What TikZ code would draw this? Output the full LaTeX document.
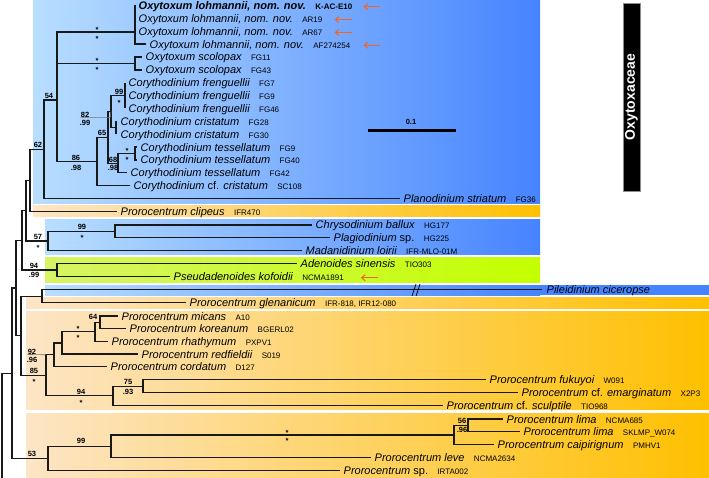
\documentclass[tikz,border=0pt]{standalone}
\usepackage{fontspec}
\setmainfont{Liberation Sans}
\usetikzlibrary{positioning,arrows.meta}
\definecolor{boxblue}{RGB}{70,132,255}
\definecolor{paleblue}{RGB}{184,222,255}
\definecolor{boxorange}{RGB}{255,192,0}
\definecolor{paleorange}{RGB}{253,229,198}
\definecolor{boxlime}{RGB}{196,255,0}
\definecolor{palelime}{RGB}{214,244,100}
\definecolor{markorange}{RGB}{245,100,30}
\tikzset{
  treeline/.style={line width=1.3pt, black!90},
  taxon/.style={anchor=west, inner sep=0pt, text height=8pt, text depth=0pt, font=\fontsize{11}{12}\selectfont\itshape},
  seqid/.style={inner sep=0pt, font=\fontsize{8}{9}\selectfont},
  supp/.style={inner sep=0pt, text height=5.5pt, text depth=0pt, font=\fontsize{7.5}{8}\selectfont\bfseries},
  newseq/.style={markorange, line width=1pt, -{Straight Barb[length=3.5pt,width=6pt]}},
}
\begin{document}
\begin{tikzpicture}[x=1pt,y=-1pt]
\useasboundingbox (0,0) rectangle (709,478);
% clade boxes
\shade[left color=paleblue, right color=boxblue] (33,0) rectangle (540,204);
\shade[left color=paleorange, right color=boxorange] (33,206) rectangle (540,217);
\shade[left color=paleblue, right color=boxblue] (45,220) rectangle (540,255);
\shade[left color=palelime, right color=boxlime] (45,258) rectangle (540,282);
\shade[left color=paleblue, right color=boxblue] (45,285) rectangle (540,295);
\fill[boxblue] (540,285) rectangle (709,295);
\shade[left color=paleorange, right color=boxorange] (26,297) rectangle (709,308);
\shade[left color=paleorange, right color=boxorange] (26,311) rectangle (709,409);
\shade[left color=paleorange, right color=boxorange] (26,413) rectangle (709,478);

% tips
\coordinate (t1) at (135,5.5);
\coordinate (t2) at (135,18.4);
\coordinate (t3) at (135,31.2);
\coordinate (t4) at (146,44.1);
\coordinate (t5) at (142,57);
\coordinate (t6) at (142,69.9);
\coordinate (t7) at (125,82.7);
\coordinate (t8) at (125,95.6);
\coordinate (t9) at (125,108.5);
\coordinate (t10) at (116,121.3);
\coordinate (t11) at (116,134.2);
\coordinate (t12) at (137,147.1);
\coordinate (t13) at (137,160);
\coordinate (t14) at (127,172.8);
\coordinate (t15) at (130,185.7);
\coordinate (t16) at (400,198.6);
\coordinate (t17) at (117,211.8);
\coordinate (t18) at (312,225);
\coordinate (t19) at (330,237.8);
\coordinate (t20) at (302,250.6);
\coordinate (t21) at (297,263.5);
\coordinate (t22) at (170,276.5);
\coordinate (t23) at (542,289.8);
\coordinate (t24) at (186,302.6);
\coordinate (t25) at (118,316);
\coordinate (t26) at (126,328.6);
\coordinate (t27) at (108,341.3);
\coordinate (t28) at (138,354);
\coordinate (t29) at (107,366.7);
\coordinate (t30) at (486,379.8);
\coordinate (t31) at (518,392.6);
\coordinate (t32) at (443,405.3);
\coordinate (t33) at (503,419);
\coordinate (t34) at (520,431.8);
\coordinate (t35) at (494,444.6);
\coordinate (t36) at (371,457.4);
\coordinate (t37) at (340,470.2);

% inner nodes
\coordinate (nOx) at (135,32);
\coordinate (nSc) at (135,63.5);
\coordinate (nFr) at (125,95.6);
\coordinate (nCr) at (116,127.7);
\coordinate (nA) at (111,111.6);
\coordinate (nTi) at (135,153.5);
\coordinate (nTe) at (118,163.2);
\coordinate (n65) at (108,137.4);
\coordinate (n86) at (97,161.5);
\coordinate (n54) at (57,100);
\coordinate (n62) at (44,149.3);
\coordinate (nCl) at (30,180.5);
\coordinate (nCh) at (115,231.4);
\coordinate (n57) at (48,241);
\coordinate (nE) at (26,210.8);
\coordinate (nAd) at (57,270);
\coordinate (nC) at (22,240.4);
\coordinate (nPi) at (42,296.2);
\coordinate (n64) at (100,322.3);
\coordinate (nRh) at (95,331.8);
\coordinate (nRe) at (62,342.9);
\coordinate (n92) at (54,354.8);
\coordinate (n75) at (143,386.2);
\coordinate (n94) at (113,395.8);
\coordinate (n85) at (46,375.3);
\coordinate (nD) at (21,335.8);
\coordinate (nB) at (16,288.1);
\coordinate (n56) at (468,425.4);
\coordinate (nLi) at (454,435);
\coordinate (n99) at (111,446.2);
\coordinate (n53) at (48,458.3);
\coordinate (nRt) at (12,373.2);
\coordinate (root) at (2,478);

% branches
\draw[treeline] (root) |- (nRt);
\draw[treeline] (nRt) |- (nB) (nRt) |- (n53);
\draw[treeline] (nB) |- (nC) (nB) |- (nD);
\draw[treeline] (nC) |- (nE) (nC) |- (nAd);
\draw[treeline] (nE) |- (nCl) (nE) |- (n57);
\draw[treeline] (nCl) |- (n62) (nCl) |- (t17);
\draw[treeline] (n62) |- (n54) (n62) |- (t16);
\draw[treeline] (n54) |- (nOx) (n54) |- (nSc) (n54) |- (n86);
\draw[treeline] (nOx) |- (t1) (nOx) |- (t2) (nOx) |- (t3) (nOx) |- (t4);
\draw[treeline] (nSc) |- (t5) (nSc) |- (t6);
\draw[treeline] (n86) |- (n65) (n86) |- (t15);
\draw[treeline] (n65) |- (nA) (n65) |- (nTe);
\draw[treeline] (nA) |- (nFr) (nA) |- (nCr);
\draw[treeline] (nFr) |- (t7) (nFr) |- (t8) (nFr) |- (t9);
\draw[treeline] (nCr) |- (t10) (nCr) |- (t11);
\draw[treeline] (nTe) |- (nTi) (nTe) |- (t14);
\draw[treeline] (nTi) |- (t12) (nTi) |- (t13);
\draw[treeline] (n57) |- (nCh) (n57) |- (t20);
\draw[treeline] (nCh) |- (t18) (nCh) |- (t19);
\draw[treeline] (nAd) |- (t21) (nAd) |- (t22);
\draw[treeline] (nD) |- (nPi) (nD) |- (n85);
\draw[treeline] (nPi) |- (t23) (nPi) |- (t24);
\draw[treeline] (n85) |- (n92) (n85) |- (n94);
\draw[treeline] (n92) |- (nRe) (n92) |- (t29);
\draw[treeline] (nRe) |- (nRh) (nRe) |- (t28);
\draw[treeline] (nRh) |- (n64) (nRh) |- (t27);
\draw[treeline] (n64) |- (t25) (n64) |- (t26);
\draw[treeline] (n94) |- (n75) (n94) |- (t32);
\draw[treeline] (n75) |- (t30) (n75) |- (t31);
\draw[treeline] (n53) |- (n99) (n53) |- (t37);
\draw[treeline] (n99) |- (nLi) (n99) |- (t36);
\draw[treeline] (nLi) |- (n56) (nLi) |- (t35);
\draw[treeline] (n56) |- (t33) (n56) |- (t34);
% long branch cut
\draw[line width=0.8pt] (412,296) -- (416,284);
\draw[line width=0.8pt] (416,296) -- (420,284);

% taxa
\node[taxon, right=3.5pt of t1] (l1) {\bfseries Oxytoxum lohmannii, nom. nov.};
\node[seqid, base right=9pt of l1] (c1) {\bfseries K-AC-E10};
\node[taxon, right=3.5pt of t2] (l2) {Oxytoxum lohmannii, nom. nov.};
\node[seqid, base right=9pt of l2] (c2) {AR19};
\node[taxon, right=3.5pt of t3] (l3) {Oxytoxum lohmannii, nom. nov.};
\node[seqid, base right=9pt of l3] (c3) {AR67};
\node[taxon, right=3.5pt of t4] (l4) {Oxytoxum lohmannii, nom. nov.};
\node[seqid, base right=9pt of l4] (c4) {AF274254};
\node[taxon, right=3.5pt of t5] (l5) {Oxytoxum scolopax};
\node[seqid, base right=9pt of l5] (c5) {FG11};
\node[taxon, right=3.5pt of t6] (l6) {Oxytoxum scolopax};
\node[seqid, base right=9pt of l6] (c6) {FG43};
\node[taxon, right=3.5pt of t7] (l7) {Corythodinium frenguellii};
\node[seqid, base right=9pt of l7] (c7) {FG7};
\node[taxon, right=3.5pt of t8] (l8) {Corythodinium frenguellii};
\node[seqid, base right=9pt of l8] (c8) {FG9};
\node[taxon, right=3.5pt of t9] (l9) {Corythodinium frenguellii};
\node[seqid, base right=9pt of l9] (c9) {FG46};
\node[taxon, right=4.5pt of t10] (l10) {Corythodinium cristatum};
\node[seqid, base right=9pt of l10] (c10) {FG28};
\node[taxon, right=4.5pt of t11] (l11) {Corythodinium cristatum};
\node[seqid, base right=9pt of l11] (c11) {FG30};
\node[taxon, right=3.5pt of t12] (l12) {Corythodinium tessellatum};
\node[seqid, base right=9pt of l12] (c12) {FG9};
\node[taxon, right=3.5pt of t13] (l13) {Corythodinium tessellatum};
\node[seqid, base right=9pt of l13] (c13) {FG40};
\node[taxon, right=3.5pt of t14] (l14) {Corythodinium tessellatum};
\node[seqid, base right=9pt of l14] (c14) {FG42};
\node[taxon, right=3.5pt of t15] (l15) {Corythodinium {\upshape cf.} cristatum};
\node[seqid, base right=9pt of l15] (c15) {SC108};
\node[taxon, right=3.5pt of t16] (l16) {Planodinium striatum};
\node[seqid, base right=9pt of l16] (c16) {FG36};
\node[taxon, right=3.5pt of t17] (l17) {Prorocentrum clipeus};
\node[seqid, base right=9pt of l17] (c17) {IFR470};
\node[taxon, right=3.5pt of t18] (l18) {Chrysodinium ballux};
\node[seqid, base right=9pt of l18] (c18) {HG177};
\node[taxon, right=3.5pt of t19] (l19) {Plagiodinium {\upshape sp.}};
\node[seqid, base right=9pt of l19] (c19) {HG225};
\node[taxon, right=3.5pt of t20] (l20) {Madanidinium loirii};
\node[seqid, base right=9pt of l20] (c20) {IFR-MLO-01M};
\node[taxon, right=3.5pt of t21] (l21) {Adenoides sinensis};
\node[seqid, base right=9pt of l21] (c21) {TIO303};
\node[taxon, right=3.5pt of t22] (l22) {Pseudadenoides kofoidii};
\node[seqid, base right=9pt of l22] (c22) {NCMA1891};
\node[taxon, right=4.5pt of t23] (l23) {Pileidinium ciceropse};
\node[taxon, right=3.5pt of t24] (l24) {Prorocentrum glenanicum};
\node[seqid, base right=9pt of l24] (c24) {IFR-818, IFR12-080};
\node[taxon, right=3.5pt of t25] (l25) {Prorocentrum micans};
\node[seqid, base right=9pt of l25] (c25) {A10};
\node[taxon, right=3.5pt of t26] (l26) {Prorocentrum koreanum};
\node[seqid, base right=9pt of l26] (c26) {BGERL02};
\node[taxon, right=3.5pt of t27] (l27) {Prorocentrum rhathymum};
\node[seqid, base right=9pt of l27] (c27) {PXPV1};
\node[taxon, right=3.5pt of t28] (l28) {Prorocentrum redfieldii};
\node[seqid, base right=9pt of l28] (c28) {S019};
\node[taxon, right=3.5pt of t29] (l29) {Prorocentrum cordatum};
\node[seqid, base right=9pt of l29] (c29) {D127};
\node[taxon, right=3.5pt of t30] (l30) {Prorocentrum fukuyoi};
\node[seqid, base right=9pt of l30] (c30) {W091};
\node[taxon, right=3.5pt of t31] (l31) {Prorocentrum {\upshape cf.} emarginatum};
\node[seqid, base right=9pt of l31] (c31) {X2P3};
\node[taxon, right=3.5pt of t32] (l32) {Prorocentrum {\upshape cf.} sculptile};
\node[seqid, base right=9pt of l32] (c32) {TIO968};
\node[taxon, right=3.5pt of t33] (l33) {Prorocentrum lima};
\node[seqid, base right=9pt of l33] (c33) {NCMA685};
\node[taxon, right=3.5pt of t34] (l34) {Prorocentrum lima};
\node[seqid, base right=9pt of l34] (c34) {SKLMP\_W074};
\node[taxon, right=3.5pt of t35] (l35) {Prorocentrum caipirignum};
\node[seqid, base right=9pt of l35] (c35) {PMHV1};
\node[taxon, right=3.5pt of t36] (l36) {Prorocentrum leve};
\node[seqid, base right=9pt of l36] (c36) {NCMA2634};
\node[taxon, right=3.5pt of t37] (l37) {Prorocentrum {\upshape sp.}};
\node[seqid, base right=9pt of l37] (c37) {IRTA002};

% new sequences
\draw[newseq] ([xshift=28pt]c1.east) -- ([xshift=11pt]c1.east);
\draw[newseq] ([xshift=29pt]c2.east) -- ([xshift=12pt]c2.east);
\draw[newseq] ([xshift=29pt]c3.east) -- ([xshift=12pt]c3.east);
\draw[newseq] ([xshift=30pt]c4.east) -- ([xshift=13pt]c4.east);
\draw[newseq] ([xshift=34pt]c22.east) -- ([xshift=17pt]c22.east);

% support values
\node[supp] (s1) at (97,30) {*};
\node[supp] (s2) at (97,39) {*};
\node[supp] (s3) at (97,61) {*};
\node[supp] (s4) at (97,69.5) {*};
\node[supp] (s5) at (49,96) {54};
\node[supp] (s6) at (38,145) {62};
\node[supp] (s7) at (119,91.5) {99};
\node[supp] (s8) at (119,102.5) {*};
\node[supp] (s9) at (85,114.5) {82};
\node[supp] (s10) at (85,123) {.99};
\draw[black!55, line width=0.6pt] (s9.south west) -- ([xshift=21pt]s9.south east) -- (nA);
\node[supp] (s11) at (102,133) {65};
\node[supp] (s12) at (76,158) {86};
\node[supp] (s13) at (76,167.5) {.98};
\node[supp] (s14) at (127,151) {*};
\node[supp] (s15) at (127,159.5) {*};
\node[supp] (s16) at (113,159.5) {68};
\node[supp] (s17) at (113,168) {.98};
\node[supp] (s18) at (82,227) {99};
\node[supp] (s19) at (82,237.5) {*};
\node[supp] (s20) at (38,237) {57};
\node[supp] (s21) at (38,247.5) {*};
\node[supp] (s22) at (34,266) {94};
\node[supp] (s23) at (34,275) {.99};
\node[supp] (s24) at (93,317) {64};
\node[supp] (s25) at (78,329) {*};
\node[supp] (s26) at (78,338) {*};
\node[supp] (s27) at (32,351.5) {92};
\node[supp] (s28) at (32,360) {.96};
\draw[black!55, line width=0.6pt] (s27.south west) -- (n85 |- n92);
\node[supp] (s29) at (34,371) {85};
\node[supp] (s30) at (34,381.5) {*};
\node[supp] (s31) at (81,392) {94};
\node[supp] (s32) at (81,402.5) {*};
\node[supp] (s33) at (128,382) {75};
\node[supp] (s34) at (128,391.5) {.93};
\node[supp] (s35) at (81,441) {99};
\node[supp] (s36) at (32,454) {53};
\node[supp] (s37) at (287,432.5) {*};
\node[supp] (s38) at (287,441) {*};
\node[supp] (s39) at (462,420.5) {56};
\node[supp] (s40) at (462,430) {.96};

% scale bar
\coordinate (sb1) at (368,131);
\coordinate (sb2) at (456,131);
\draw[line width=3pt] (sb1) -- (sb2);
\node[supp] (sbl) at (411,122) {0.1};

% family bar
\node[rotate=90, fill=black, draw=black!45, text=white, inner sep=0pt,
  minimum width=188pt, minimum height=17pt,
  font=\fontsize{14}{14}\selectfont\bfseries] (fam) at (631.5,97) {Oxytoxaceae};
\end{tikzpicture}
\end{document}
